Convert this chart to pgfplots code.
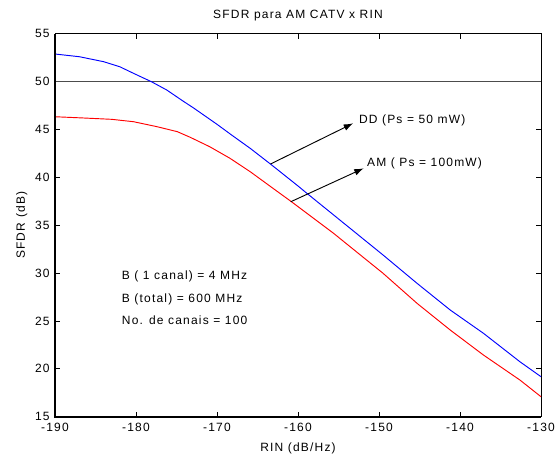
\documentclass[border=0pt]{standalone}
\usepackage{fontspec}
\setmainfont{Liberation Sans}[LetterSpace=10]
\usepackage{pgfplots}
\pgfplotsset{compat=1.18}
\usetikzlibrary{arrows.meta}
\begin{document}
\begin{tikzpicture}[font=\fontsize{9}{10.8}\selectfont]
\begin{axis}[
  name=ax,
  scale only axis,
  width=364.5pt, height=287.25pt,
  xmin=-190, xmax=-130, ymin=15, ymax=55,
  xtick={-190,-180,-170,-160,-150,-140,-130},
  ytick={15,20,25,30,35,40,45,50,55},
  tick align=inside,
  major tick length=3.75pt,
  tick style={black, line width=0.6pt},
  axis line style={black, line width=0.75pt},
  /pgf/number format/assume math mode=true,
  xticklabel style={yshift=-1.5pt},
  yticklabel style={xshift=-0.5pt},
  title={SFDR para AM CATV x RIN},
  every axis title/.style={at={(axis description cs:0.5,1.047)}, anchor=center},
  xlabel={RIN (dB/Hz)},
  xlabel style={at={(axis description cs:0.5,-0.0825)}, anchor=center},
  ylabel={SFDR (dB)},
  ylabel style={at={(axis description cs:-0.0685,0.5)}, anchor=center},
  clip=false,
]
\addplot[black!70, line width=0.75pt] coordinates {(-190,50) (-130,50)};
\addplot[blue, line width=0.7pt] coordinates {
(-190,52.88) (-187,52.6) (-184,52.08) (-182,51.55) (-180.3,50.86) (-178.1,49.99)
(-176.2,49.12) (-174.2,47.97) (-172.9,47.25) (-170,45.54) (-168,44.3) (-165.9,43.03)
(-163.4,41.39) (-160,39.1) (-158.9,38.33) (-155.6,36.07) (-153.6,34.7) (-149.5,31.89)
(-145.3,28.93) (-141.2,26.14) (-137.1,23.71) (-132.6,20.74) (-130,19.18)};
\addplot[red, line width=0.7pt] coordinates {
(-190,46.33) (-186.5,46.2) (-183,46.06) (-180.3,45.81) (-177.4,45.29) (-174.9,44.77)
(-173.3,44.18) (-170.9,43.2) (-168.4,41.99) (-165.9,40.59) (-163,38.8) (-160.8,37.45)
(-155.6,34.15) (-153.6,32.78) (-149.5,29.98) (-145.3,26.84) (-141.2,24.05)
(-137.1,21.44) (-132.6,18.83) (-130,17.09)};
\draw[black, line width=0.7pt, -{Latex[length=7pt,width=5pt]}] (axis cs:-163.4,41.39) -- (axis cs:-153.2,45.64);
\draw[black, line width=0.7pt, -{Latex[length=7pt,width=5pt]}] (axis cs:-160.9,37.45) -- (axis cs:-151.9,40.94);
\node[anchor=west, inner sep=0pt] at (axis cs:-152.5,45.91) {DD (Ps = 50 mW)};
\node[anchor=west, inner sep=0pt] at (axis cs:-151.5,41.46) {AM ( Ps = 100mW)};
\node[anchor=west, inner sep=0pt] at (axis cs:-181.77,29.62) {B ( 1 canal) = 4 MHz};
\node[anchor=west, inner sep=0pt] at (axis cs:-181.77,27.26) {B (total) = 600 MHz};
\node[anchor=west, inner sep=0pt] at (axis cs:-181.77,25.1) {No. de canais = 100};
\draw[black, line width=1.4pt] (rel axis cs:0,1) -- (rel axis cs:0,0) -- (rel axis cs:1,0);
\end{axis}
\pgfresetboundingbox
\path[use as bounding box] ([shift={(-41.25pt,-28.7pt)}]ax.south west) rectangle ([shift={(12pt,25.3pt)}]ax.north east);
\end{tikzpicture}
\end{document}
